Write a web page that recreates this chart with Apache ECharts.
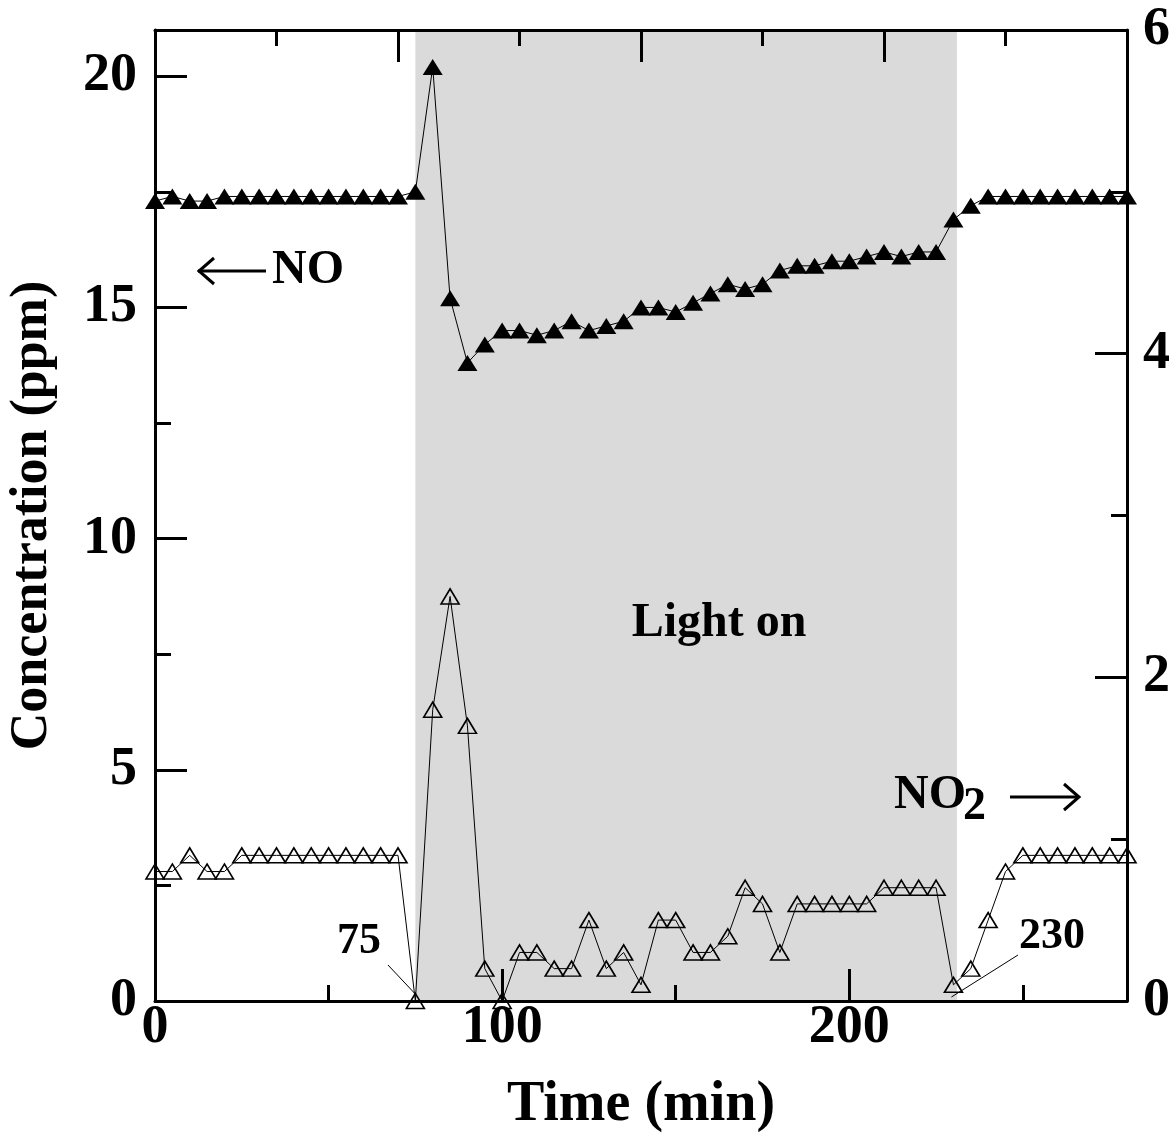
<!DOCTYPE html>
<html>
<head>
<meta charset="utf-8">
<script src="https://cdn.jsdelivr.net/npm/echarts@6/dist/echarts.min.js"></script>
<style>
  html, body { margin: 0; padding: 0; background: #fff; }
  #chart { width: 1173px; height: 1133px; }
</style>
</head>
<body>
<div id="chart"></div>
<script>
// Sampling times (min)
const timeMin = [0, 5, 10, 15, 20, 25, 30, 35, 40, 45, 50, 55, 60, 65, 70, 75,
  80, 85, 90, 95, 100, 105, 110, 115, 120, 125, 130, 135, 140, 145, 150, 155,
  160, 165, 170, 175, 180, 185, 190, 195, 200, 205, 210, 215, 220, 225, 230, 235,
  240, 245, 250, 255, 260, 265, 270, 275, 280];

// NO concentration (ppm, left axis)
const noPpm = [17.3, 17.4, 17.3, 17.3, 17.4, 17.4, 17.4, 17.4, 17.4, 17.4, 17.4, 17.4, 17.4, 17.4, 17.4, 17.5,
  20.2, 15.2, 13.8, 14.2, 14.5, 14.5, 14.4, 14.5, 14.7, 14.5, 14.6, 14.7, 15.0, 15.0, 14.9, 15.1,
  15.3, 15.5, 15.4, 15.5, 15.8, 15.9, 15.9, 16.0, 16.0, 16.1, 16.2, 16.1, 16.2, 16.2, 16.9, 17.2,
  17.4, 17.4, 17.4, 17.4, 17.4, 17.4, 17.4, 17.4, 17.4];

// NO2 concentration (ppm, right axis)
const no2Ppm = [0.8, 0.8, 0.9, 0.8, 0.8, 0.9, 0.9, 0.9, 0.9, 0.9, 0.9, 0.9, 0.9, 0.9, 0.9, 0.0,
  1.8, 2.5, 1.7, 0.2, 0.0, 0.3, 0.3, 0.2, 0.2, 0.5, 0.2, 0.3, 0.1, 0.5, 0.5, 0.3,
  0.3, 0.4, 0.7, 0.6, 0.3, 0.6, 0.6, 0.6, 0.6, 0.6, 0.7, 0.7, 0.7, 0.7, 0.1, 0.2,
  0.5, 0.8, 0.9, 0.9, 0.9, 0.9, 0.9, 0.9, 0.9];

// Illumination period (min)
const lightOn = [75, 231];

// Tick settings
const bottomTickStep = 100, bottomMinorStep = 50, topTickStep = 70;
const leftTickStep = 5, leftMinorStep = 2.5, rightTickStep = 2;
const xRange = [0, 280], leftRange = [0, 21], rightRange = [0, 6];

const FONT = '"Liberation Serif", "Times New Roman", serif';
const lineW = 3;

const chart = echarts.init(document.getElementById('chart'));

const majorTick = { show: true, inside: true, length: 32, lineStyle: { color: '#000', width: lineW } };
const minorTickLen = 16;
const tickLabel = { color: '#000', fontFamily: FONT, fontWeight: 'bold', fontSize: 54 };

chart.setOption({
  animation: false,
  backgroundColor: '#fff',
  grid: { left: 155, right: 46, top: 30, bottom: 132, containLabel: false, outerBoundsMode: 'none' },
  xAxis: [
    {
      type: 'value', position: 'bottom', min: xRange[0], max: xRange[1], interval: bottomTickStep, z: 5,
      axisLine: { show: true, onZero: false, lineStyle: { color: '#000', width: lineW } },
      axisTick: majorTick,
      splitLine: { show: false },
      axisLabel: Object.assign({ margin: 0, showMaxLabel: false }, tickLabel),
      name: 'Time (min)', nameLocation: 'middle', nameGap: 77,
      nameTextStyle: { color: '#000', fontFamily: FONT, fontWeight: 'bold', fontSize: 56 }
    },
    {
      type: 'value', position: 'top', min: xRange[0], max: xRange[1], interval: topTickStep, z: 5,
      axisLine: { show: true, onZero: false, lineStyle: { color: '#000', width: lineW } },
      axisTick: majorTick,
      minorTick: { show: true, splitNumber: 2, length: minorTickLen, lineStyle: { color: '#000', width: lineW } },
      splitLine: { show: false }, minorSplitLine: { show: false },
      axisLabel: { show: false }
    },
    {
      type: 'value', position: 'bottom', min: xRange[0], max: xRange[1], interval: bottomMinorStep, z: 5,
      axisLine: { show: false },
      axisTick: { show: true, inside: true, length: minorTickLen, lineStyle: { color: '#000', width: lineW } },
      splitLine: { show: false },
      axisLabel: { show: false }
    }
  ],
  yAxis: [
    {
      type: 'value', position: 'left', min: leftRange[0], max: leftRange[1], interval: leftTickStep, z: 5,
      axisLine: { show: true, onZero: false, lineStyle: { color: '#000', width: lineW } },
      axisTick: majorTick,
      splitLine: { show: false },
      axisLabel: Object.assign({ margin: 18, showMaxLabel: false }, tickLabel),
      name: 'Concentration (ppm)', nameLocation: 'middle', nameGap: 96, nameRotate: 90,
      nameTextStyle: { color: '#000', fontFamily: FONT, fontWeight: 'bold', fontSize: 52 }
    },
    {
      type: 'value', position: 'right', min: rightRange[0], max: rightRange[1], interval: rightTickStep, z: 5,
      axisLine: { show: true, onZero: false, lineStyle: { color: '#000', width: lineW } },
      axisTick: majorTick,
      minorTick: { show: true, splitNumber: 2, length: minorTickLen, lineStyle: { color: '#000', width: lineW } },
      splitLine: { show: false }, minorSplitLine: { show: false },
      axisLabel: Object.assign({ margin: 16 }, tickLabel)
    },
    {
      type: 'value', position: 'left', min: leftRange[0], max: leftRange[1], interval: leftMinorStep, z: 5,
      axisLine: { show: false },
      axisTick: { show: true, inside: true, length: minorTickLen, lineStyle: { color: '#000', width: lineW } },
      splitLine: { show: false },
      axisLabel: { show: false }
    }
  ],
  series: [
    {
      name: 'NO', type: 'line', xAxisIndex: 0, yAxisIndex: 0,
      data: timeMin.map((t, i) => [t, noPpm[i]]),
      symbol: 'triangle', symbolSize: [20, 16], showAllSymbol: true,
      itemStyle: { color: '#000', borderWidth: 0 },
      lineStyle: { color: '#000', width: 1 },
      z: 3,
      markArea: {
        silent: true,
        itemStyle: { color: '#dadada' },
        data: [[{ xAxis: lightOn[0] }, { xAxis: lightOn[1] }]]
      }
    },
    {
      name: 'NO2', type: 'line', xAxisIndex: 0, yAxisIndex: 1,
      data: timeMin.map((t, i) => [t, no2Ppm[i]]),
      symbol: 'triangle', symbolSize: [18, 15], showAllSymbol: true,
      itemStyle: { color: 'rgba(0,0,0,0)', borderColor: '#000', borderWidth: 1.6 },
      lineStyle: { color: '#000', width: 1 },
      z: 3
    }
  ]
});

// Annotations: text labels, direction arrows and leader lines
const p75 = chart.convertToPixel({ xAxisIndex: 0, yAxisIndex: 0 }, [lightOn[0], 0]);
const p230 = chart.convertToPixel({ xAxisIndex: 0, yAxisIndex: 0 }, [230, 0]);
const textStyle = (txt, x, y, size, align) => ({
  type: 'text', z: 20,
  style: { text: txt, x: x, y: y, fill: '#000', font: 'bold ' + size + 'px ' + FONT,
           textAlign: align || 'left', textVerticalAlign: 'middle' }
});
const stroke = { stroke: '#000', lineWidth: 3, fill: null };

chart.setOption({
  graphic: [
    textStyle('Light on', 719, 624, 48, 'center'),
    // NO label with left arrow
    textStyle('NO', 272, 271, 48),
    { type: 'line', z: 20, shape: { x1: 198, y1: 271, x2: 266, y2: 271 }, style: stroke },
    { type: 'polyline', z: 20, shape: { points: [[214, 258], [199, 271], [214, 284]] }, style: stroke },
    // NO2 label with right arrow
    textStyle('NO', 894, 796, 48),
    textStyle('2', 963, 807, 46),
    { type: 'line', z: 20, shape: { x1: 1010, y1: 797, x2: 1079, y2: 797 }, style: stroke },
    { type: 'polyline', z: 20, shape: { points: [[1064, 784], [1079, 797], [1064, 810]] }, style: stroke },
    // Light on / off markers
    textStyle('75', 359, 942, 44, 'center'),
    { type: 'line', z: 20, shape: { x1: 388, y1: 965, x2: p75[0] - 1, y2: p75[1] - 8 },
      style: { stroke: '#000', lineWidth: 1 } },
    textStyle('230', 1052, 937, 44, 'center'),
    { type: 'line', z: 20, shape: { x1: 1018, y1: 955, x2: p230[0] - 2, y2: p230[1] - 4 },
      style: { stroke: '#000', lineWidth: 1 } }
  ]
});
</script>
</body>
</html>
